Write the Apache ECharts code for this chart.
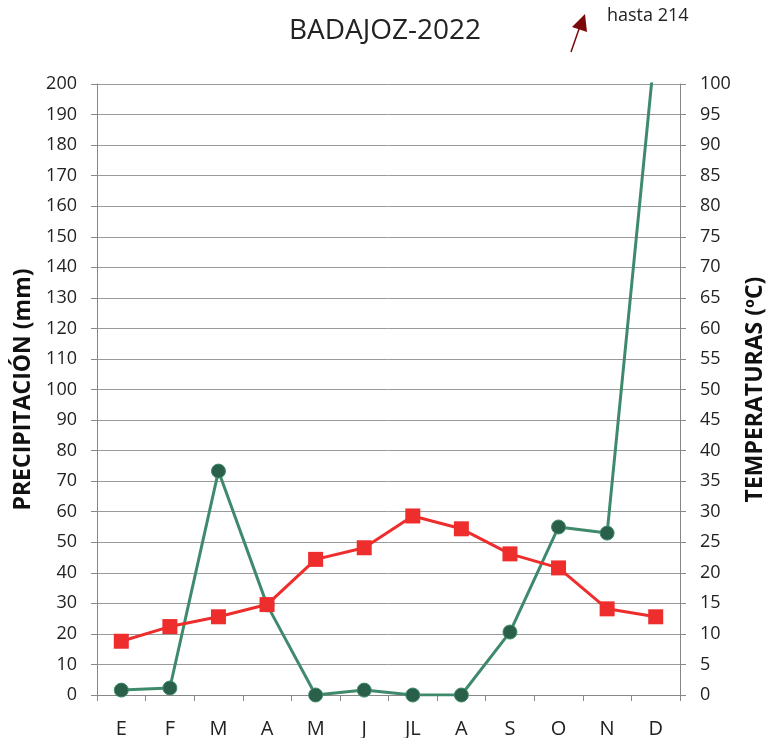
<!DOCTYPE html>
<html>
<head>
<meta charset="utf-8">
<script src="https://cdn.jsdelivr.net/npm/echarts@6/dist/echarts.min.js"></script>
<style>
  html, body { margin: 0; padding: 0; background: #fff; }
  #chart { width: 770px; height: 738px; }
</style>
</head>
<body>
<div id="chart"></div>
<script>
const months = ['E', 'F', 'M', 'A', 'M', 'J', 'JL', 'A', 'S', 'O', 'N', 'D'];
// precipitación en mm (diciembre llega a 214, fuera de escala)
const precip = [1.6, 2.3, 73.3, 29.5, 0, 1.6, 0, 0, 20.6, 55, 53, 214];
// temperatura media en ºC
const temps = [8.8, 11.2, 12.8, 14.8, 22.2, 24.1, 29.3, 27.2, 23.1, 20.8, 14.1, 12.8];

const font = '"Open Sans", "DejaVu Sans", sans-serif';
const chart = echarts.init(document.getElementById('chart'));

chart.setOption({
  animation: false,
  title: {
    text: 'BADAJOZ-2022',
    left: 'center',
    top: 12,
    textStyle: { fontFamily: font, fontSize: 28, fontWeight: 'normal', color: '#222' }
  },
  grid: { left: 97, right: 90, top: 84, bottom: 43, outerBoundsMode: 'none', containLabel: false },
  xAxis: {
    type: 'category',
    data: months,
    boundaryGap: true,
    axisLine: { lineStyle: { color: '#888', width: 1 } },
    axisTick: { show: true, interval: 0, length: 6, lineStyle: { color: '#888' } },
    axisLabel: { interval: 0, margin: 24, fontFamily: font, fontSize: 20, color: '#222' }
  },
  yAxis: [
    {
      type: 'value',
      min: 0, max: 200, interval: 10,
      name: 'PRECIPITACIÓN (mm)',
      nameLocation: 'middle',
      nameRotate: 90,
      nameGap: 57,
      nameTextStyle: { fontFamily: font, fontSize: 23, fontWeight: 'bold', color: '#111' },
      axisLine: { show: true, lineStyle: { color: '#888' } },
      axisTick: { show: true, length: 6, lineStyle: { color: '#888' } },
      axisLabel: { margin: 20, fontFamily: font, fontSize: 18, color: '#222' },
      splitLine: { show: true, lineStyle: { color: '#9a9a9a', width: 1 } }
    },
    {
      type: 'value',
      position: 'right',
      min: 0, max: 100, interval: 5,
      name: 'TEMPERATURAS (ºC)',
      nameLocation: 'middle',
      nameRotate: 90,
      nameGap: 64,
      nameTextStyle: { fontFamily: font, fontSize: 23, fontWeight: 'bold', color: '#111' },
      axisLine: { show: true, lineStyle: { color: '#888' } },
      axisTick: { show: true, length: 6, lineStyle: { color: '#888' } },
      axisLabel: { margin: 20, fontFamily: font, fontSize: 18, color: '#222' },
      splitLine: { show: false }
    }
  ],
  series: [
    {
      name: 'Precipitación',
      type: 'line',
      yAxisIndex: 0,
      data: precip,
      clip: true,
      symbol: 'circle',
      symbolSize: 14,
      lineStyle: { color: '#3f8a6c', width: 3 },
      itemStyle: { color: '#2a5f49', borderColor: '#3f8a6c', borderWidth: 1 },
      z: 3
    },
    {
      name: 'Temperatura',
      type: 'line',
      yAxisIndex: 1,
      data: temps,
      symbol: 'rect',
      symbolSize: 15,
      lineStyle: { color: '#ee2d2d', width: 3 },
      itemStyle: { color: '#ee2d2d' },
      z: 4
    }
  ],
  graphic: [
    {
      type: 'line',
      shape: { x1: 571, y1: 52, x2: 579, y2: 29 },
      style: { stroke: '#7a0a0a', lineWidth: 1.5 }
    },
    {
      type: 'polygon',
      shape: { points: [[585, 14], [572, 27], [587, 32]] },
      style: { fill: '#7a0a0a' }
    },
    {
      type: 'text',
      left: 607,
      top: 7,
      style: { text: 'hasta 214', fontFamily: font, fontSize: 18, fill: '#222' }
    }
  ]
});
</script>
</body>
</html>
